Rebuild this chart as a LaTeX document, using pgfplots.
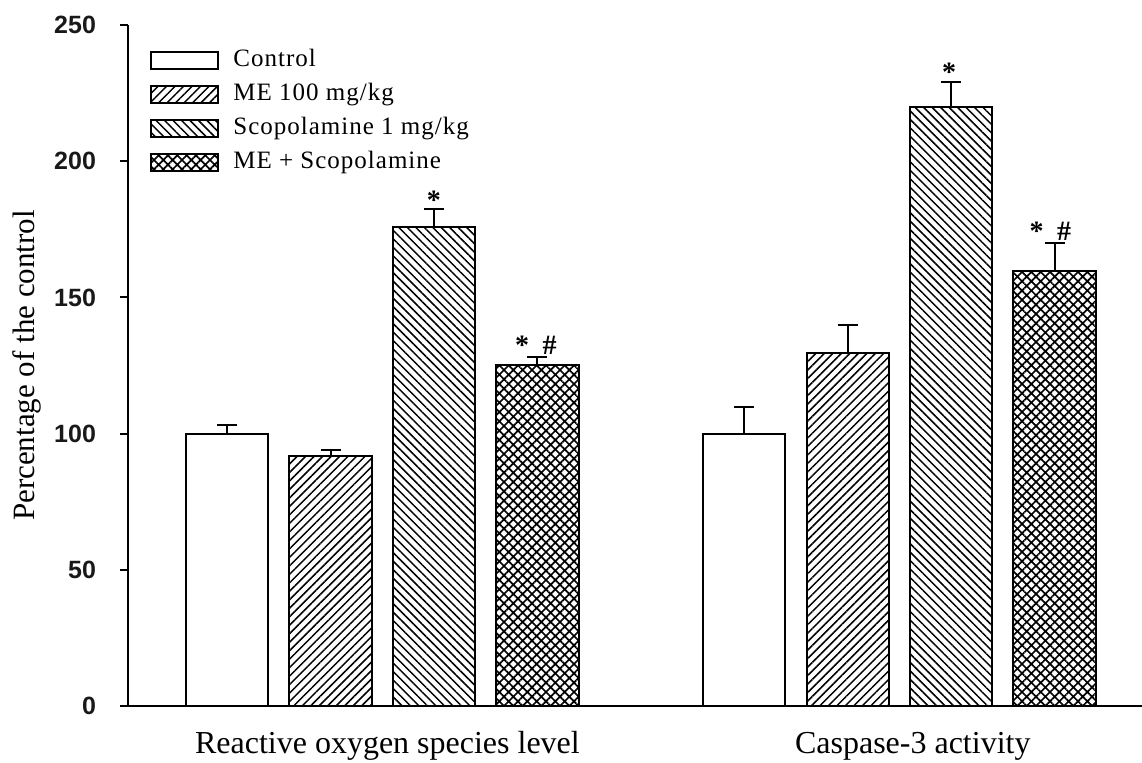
\documentclass[border=0pt]{standalone}
\usepackage{fontspec}
\setmainfont{Liberation Serif}
\newfontfamily\tickfont{Liberation Sans}
\newfontfamily\legfont[LetterSpace=4]{Liberation Serif}
\usepackage{pgfplots}
\usepackage{pgfplotstable}
\pgfplotsset{compat=1.18}
\usetikzlibrary{patterns.meta}

% x: group centre (0 = ROS, 1 = Caspase-3), y: mean, e: SEM
\pgfplotstableread{
x       y      e
-0.300  100.0  3.0
 0.700  100.0  9.6
}\ctrl
\pgfplotstableread{
x       y      e
-0.100   91.9  2.2
 0.900  129.5 10.3
}\meh
\pgfplotstableread{
x       y      e
 0.100  175.8  6.6
 1.100  219.8  9.4
}\scop
\pgfplotstableread{
x       y      e
 0.300  125.2  2.9
 1.300  159.7 10.2
}\mes

\pgfplotsset{
  barlegend/.style={legend image code/.code={%
     \draw[##1,line width=1pt] (0pt,-4.25pt) rectangle (33.5pt,4.25pt);}},
  mybar/.style={ybar, bar shift=0pt, bar width=0.159, draw=black, line width=1pt,
     error bars/y dir=plus, error bars/y explicit,
     error bars/error bar style={line width=1pt, black},
     error bars/error mark options={rotate=90, mark size=5pt, line width=1pt, black}},
}

\begin{document}
\begin{tikzpicture}
\begin{axis}[
  name=ax,
  scale only axis,
  width=507pt, height=340.5pt,
  xmin=-0.4917, xmax=1.4692,
  ymin=0, ymax=250,
  axis x line=bottom, axis y line=left,
  axis line style={-, line width=1pt},
  xtick={0.010,1.026},
  xticklabels={Reactive oxygen species level, Caspase-3 activity},
  x tick style={draw=none},
  xticklabel style={font=\fontsize{16}{16}\selectfont, anchor=base, inner sep=0pt, yshift=-19.5pt},
  ytick={0,50,...,250},
  y tick style={line width=1pt, black},
  tick align=outside,
  major tick length=4pt,
  /pgf/number format/assume math mode=true,
  yticklabel style={font=\tickfont\bfseries\fontsize{12.5}{12.5}\selectfont, text=black!90, xshift=-8.5pt},
  every axis y label/.style={at={(rel axis cs:-0.0996,0.5)}, rotate=90, anchor=center},
  ylabel={\fontsize{15.5}{15.5}\selectfont Percentage of the control},
  legend style={at={(rel axis cs:0.0217,0.966)}, anchor=north west, draw=none, fill=none,
     inner sep=0pt, row sep=5pt,
     nodes={inner sep=0pt, text height=9pt, text depth=3pt},
     font=\legfont\fontsize{12.5}{12.5}\selectfont,
     /tikz/every odd column/.append style={column sep=7pt}},
  legend cell align=left,
  clip=false,
]
\addplot[mybar, fill=white, barlegend] table[x=x,y=y,y error=e]{\ctrl};
\addlegendentry{Control}
\addplot[mybar, pattern={Lines[angle=45,distance=3pt,line width=0.75pt]}, barlegend] table[x=x,y=y,y error=e]{\meh};
\addlegendentry{ME 100 mg/kg}
\addplot[mybar, pattern={Lines[angle=-45,distance=3pt,line width=0.75pt]}, barlegend] table[x=x,y=y,y error=e]{\scop};
\addlegendentry{Scopolamine 1 mg/kg}
\addplot[mybar, pattern={Hatch[angle=45,distance=3.3pt,line width=0.85pt]}, barlegend] table[x=x,y=y,y error=e]{\mes};
\addlegendentry{ME + Scopolamine}

\addplot[forget plot, only marks, mark=none, point meta=explicit symbolic,
  nodes near coords, nodes near coords align={center},
  every node near coord/.style={anchor=base, inner sep=0pt, font=\bfseries\fontsize{14}{14}\selectfont}]
  coordinates {
   (0.100,182.4) [*]
   (0.297,129.0) [*\hspace{6.75pt}\symbol{35}]
   (1.096,229.3) [*]
   (1.292,170.8) [*\hspace{6.75pt}\symbol{35}]
  };
\end{axis}
\pgfresetboundingbox
\path[use as bounding box] ([xshift=-64pt,yshift=-28pt]ax.south west) rectangle ([yshift=12.5pt]ax.north east);
\end{tikzpicture}
\end{document}
